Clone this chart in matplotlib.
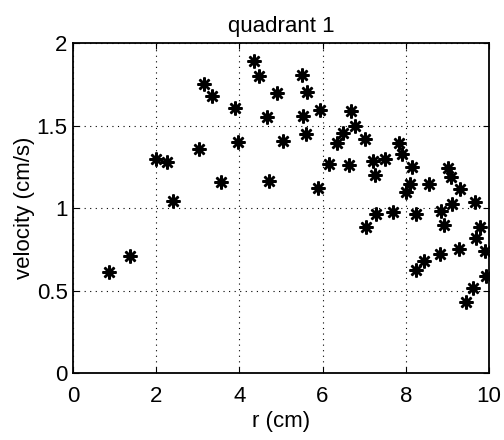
import matplotlib
matplotlib.use("Agg")
import matplotlib.pyplot as plt
from matplotlib.ticker import FormatStrFormatter

plt.rcParams['font.family'] = ['Liberation Sans', 'DejaVu Sans']

# radius (cm) and velocity (cm/s)
r = [0.87, 1.37, 2.0, 2.27, 2.41, 3.04, 3.16, 3.35, 3.55, 3.89, 3.97,
     4.35, 4.47, 4.67, 4.71, 4.90, 5.04, 5.50, 5.62, 5.54, 5.61, 5.90,
     5.94, 6.16, 6.34, 6.50, 6.64, 6.68, 6.77, 7.03, 7.05, 7.22, 7.26,
     7.29, 7.51, 7.69, 7.85, 7.92, 8.00, 8.10, 8.16, 8.24, 8.57, 8.85,
     8.92, 9.02, 9.08, 9.11, 9.30, 9.66, 9.78, 9.69, 9.91, 9.28, 8.82,
     8.43, 8.24, 9.93, 9.61, 9.44]
vel = [0.61, 0.71, 1.30, 1.28, 1.045, 1.36, 1.75, 1.68, 1.16, 1.605, 1.40,
       1.89, 1.80, 1.55, 1.165, 1.695, 1.405, 1.806, 1.705, 1.556, 1.45, 1.12,
       1.597, 1.266, 1.395, 1.454, 1.262, 1.59, 1.50, 1.417, 0.887, 1.286, 1.20,
       0.965, 1.296, 0.978, 1.395, 1.325, 1.10, 1.146, 1.248, 0.962, 1.147, 0.981,
       0.90, 1.242, 1.19, 1.024, 1.117, 1.038, 0.887, 0.818, 0.738, 0.754, 0.724,
       0.682, 0.622, 0.588, 0.514, 0.432]

fig = plt.figure(figsize=(5.04, 4.40), dpi=100)
ax = fig.add_axes([0.145, 0.152, 0.825, 0.75])

ax.plot(r, vel, linestyle="none", marker=(8, 2, 0), markersize=10,
        markeredgewidth=1.8, color="black")

ax.set_xlim(0, 10)
ax.set_ylim(0, 2)
ax.set_xticks([0, 2, 4, 6, 8, 10])
ax.set_yticks([0, 0.5, 1, 1.5, 2])
ax.yaxis.set_major_formatter(FormatStrFormatter('%g'))
ax.grid(True, linestyle=(0, (1, 4)), color="black", linewidth=0.8)
ax.tick_params(direction="in", top=True, right=True, labelsize=16, length=4)
ax.tick_params(axis="x", pad=9)
ax.tick_params(axis="y", pad=4)
for s in ax.spines.values():
    s.set_linewidth(1.3)

ax.set_xlabel("r (cm)", fontsize=16, labelpad=3)
ax.set_ylabel("velocity (cm/s)", fontsize=16, labelpad=1)
ax.set_title("quadrant 1", fontsize=16, pad=8)

fig.savefig("out.png", dpi=100)
